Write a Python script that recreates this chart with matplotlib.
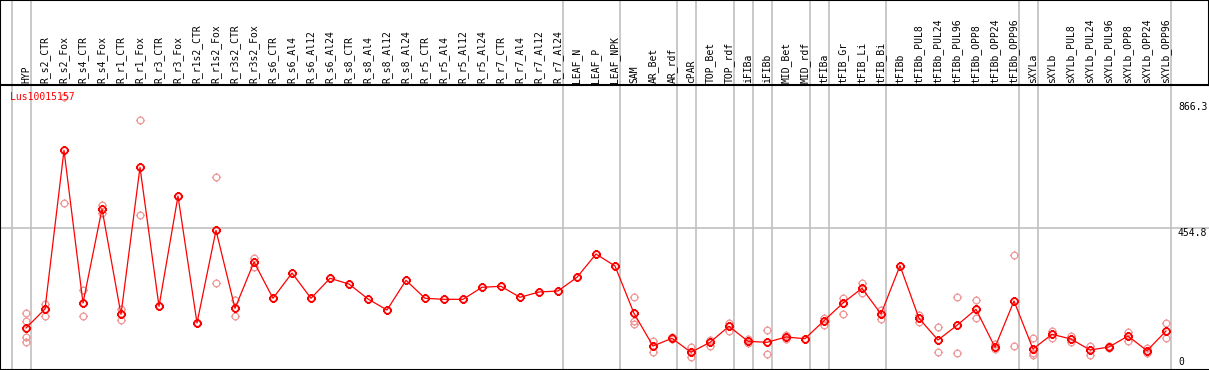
import numpy as np
import matplotlib
matplotlib.use("Agg")
import matplotlib.pyplot as plt
from matplotlib.path import Path

# column labels, in the order they appear
labels = ["HYP", "R_s2_CTR", "R_s2_Fox", "R_s4_CTR", "R_s4_Fox", "R_r1_CTR", "R_r1_Fox",
          "R_r3_CTR", "R_r3_Fox", "R_r1s2_CTR", "R_r1s2_Fox", "R_r3s2_CTR", "R_r3s2_Fox",
          "R_s6_CTR", "R_s6_Al4", "R_s6_Al12", "R_s6_Al24", "R_s8_CTR", "R_s8_Al4",
          "R_s8_Al12", "R_s8_Al24", "R_r5_CTR", "R_r5_Al4", "R_r5_Al12", "R_r5_Al24",
          "R_r7_CTR", "R_r7_Al4", "R_r7_Al12", "R_r7_Al24", "LEAF_N", "LEAF_P", "LEAF_NPK",
          "SAM", "AR_Bet", "AR_rdf", "cPAR", "TOP_Bet", "TOP_rdf", "iFIBa", "iFIBb",
          "MID_Bet", "MID_rdf", "tFIBa", "tFIB_Gr", "tFIB_Li", "tFIB_Bi", "tFIBb",
          "tFIBb_PUL8", "tFIBb_PUL24", "tFIBb_PUL96", "tFIBb_OPP8", "tFIBb_OPP24",
          "tFIBb_OPP96", "sXYLa", "sXYLb", "sXYLb_PUL8", "sXYLb_PUL24", "sXYLb_PUL96",
          "sXYLb_OPP8", "sXYLb_OPP24", "sXYLb_OPP96"]

# number of columns in each tissue group (separated by grey lines)
group_sizes = [1, 28, 3, 3, 1, 2, 1, 1, 2, 1, 3, 7, 1, 7]

# mean expression
means = [114.6, 179.3, 719.1, 199.7, 519.4, 161.2, 661.2, 188.4, 563.6, 131.6, 446.9,
         181.6, 339.1, 215.7, 301.7, 215.7, 283.7, 264.3, 213.3, 175.9, 276.9, 215.7,
         212.2, 212.2, 253.1, 256.5, 219.1, 237.1, 240.5, 287.1, 366.3, 325.5, 164.6,
         53.4, 79.6, 32.0, 66.0, 120.4, 69.4, 66.0, 84.0, 78.2, 139.5, 199.7, 249.7,
         162.2, 326.5, 147.6, 73.8, 123.8, 178.2, 49.0, 206.5, 43.2, 93.2, 77.2, 39.8,
         50.0, 87.4, 37.4, 104.4]

# replicate values
reps = [[164.6, 139.5, 85.0, 68.0], [197.3, 156.5], [899.3, 538.8], [243.9, 154.4],
        [534.0, 504.8], [179.3, 142.9], [821.1, 498.0], [188.4, 188.4], [563.6, 563.6],
        [131.6, 131.6], [629.3, 266.7], [209.9, 154.4], [353.7, 321.1],
        [], [], [], [], [], [], [], [], [], [], [], [], [], [], [], [], [], [], [],
        [219.1, 139.5, 128.2], [71.4, 32.0], [85.0, 76.2], [51.0, 17.0], [73.8, 54.4],
        [132.7, 105.4], [76.2, 64.6], [107.8, 25.2], [90.8, 76.2], [],
        [149.7, 124.8], [215.7, 162.2], [266.7, 232.7], [175.9, 144.2], [],
        [158.8, 136.1], [117.0, 32.0], [219.1, 28.6], [209.9, 147.6], [60.2, 42.2],
        [362.9, 52.4], [79.6, 28.6, 22.8], [105.4, 79.6], [88.4, 68.0], [53.4, 22.8],
        [54.4, 45.6], [100.0, 71.4], [45.6, 30.6], [130.6, 79.6]]

gene = "Lus10015157"
ref_value = 454.8
max_value = 866.3

# circle marker with little ticks
circ = Path.unit_circle()
stubs = Path([(0, 1), (0, 1.35), (0, -1), (0, -1.35), (1, 0), (1.35, 0), (-1, 0), (-1.35, 0)],
             [Path.MOVETO, Path.LINETO] * 4)
mk = Path.make_compound_path(circ, stubs)

mono = "DejaVu Sans Mono"
W, H = 1209, 370
head_px = 85
fig = plt.figure(figsize=(W / 100, H / 100), dpi=100)
ax = fig.add_axes([0, 0, 1, (H - head_px) / H])
axh = fig.add_axes([0, (H - head_px) / H, 1, head_px / H])

x = np.arange(len(labels))
xlim = (-26 / 19, (W - 26) / 19)
for a in (ax, axh):
    a.set_xlim(*xlim)
    a.set_xticks([])
    a.set_yticks([])
ax.set_ylim(-28.2, 941.2)
axh.set_ylim(0, 1)

# group separators
bounds = [-1] + list(np.cumsum(group_sizes) - 1)
for b in bounds:
    for a in (ax, axh):
        a.axvline(b + 0.25, color="#c0c0c0", lw=1.2, zorder=1)
ax.axhline(ref_value, color="#c0c0c0", lw=1.2, zorder=1)

# replicates then means
for i, r in enumerate(reps):
    if r:
        ax.plot([i] * len(r), r, ls="none", marker=mk, ms=6.5, mfc="none",
                mec="#f09898", mew=0.9, zorder=2)
ax.plot(x, means, color="red", lw=0.9, marker=mk, ms=6.5, mfc="none",
        mec="red", mew=1.3, zorder=3)

for i, lab in enumerate(labels):
    axh.text(i, 0.025, lab, rotation=90, ha="center", va="bottom",
             fontsize=7, family=mono)

ax.text(-0.84, 900, gene, color="red", fontsize=7, family=mono, ha="left", va="center")
ax.text(60.63, max_value, "866.3", fontsize=7, family=mono, ha="left", va="center")
ax.text(60.63, ref_value, "454.8", fontsize=7, family=mono, ha="left", va="top")
ax.text(60.63, 0, "0", fontsize=7, family=mono, ha="left", va="center")

for s in ax.spines.values():
    s.set_linewidth(1.5)
ax.spines["right"].set_visible(False)
ax.spines["top"].set_visible(False)
for s in axh.spines.values():
    s.set_linewidth(1.5)

fig.savefig("out.png", dpi=100)
